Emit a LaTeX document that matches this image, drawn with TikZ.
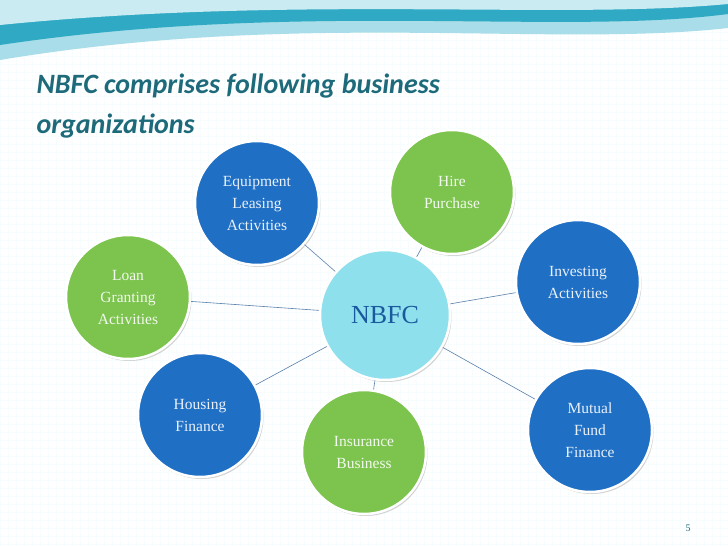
\documentclass[tikz,border=0pt]{standalone}
\usepackage{fontspec}
\setmainfont{Liberation Serif}
\newfontfamily\titlefont{Carlito}
\usetikzlibrary{shadows}
\definecolor{bluec}{HTML}{1F6FC5}
\definecolor{greenc}{HTML}{7CC44E}
\definecolor{cyanc}{HTML}{8EE0EC}
\definecolor{titlec}{HTML}{1D6A7A}
\definecolor{linec}{HTML}{5A7FA8}
\definecolor{wave1}{HTML}{2FA9C4}
\definecolor{wave2}{HTML}{A8DDE9}
\tikzset{
  bub/.style={circle,minimum size=124pt,draw=white,line width=2.5pt,inner sep=0pt,align=center,font=\fontsize{15.5}{22}\selectfont,drop shadow={shadow xshift=1.5pt,shadow yshift=-2pt,opacity=.35}},
  bb/.style={bub,fill=bluec,text=white!90!bluec},
  gb/.style={bub,fill=greenc,text=white!90!greenc},
  conn/.style={draw=linec,line width=0.6pt}
}
\begin{document}
\begin{tikzpicture}[x=1pt,y=-1pt]
\useasboundingbox (0,0) rectangle (728,546);
\fill[white] (0,0) rectangle (728,546);
\draw[step=8pt,draw=cyan!3,line width=0.3pt] (0,0) grid (728,546);
% top waves
\fill[wave2] (0,0) -- (728,0) -- (728,28) .. controls (550,48) and (300,10) .. (0,60) -- cycle;
\fill[wave1] (0,0) -- (728,0) -- (728,14) .. controls (560,36) and (300,0) .. (0,45) -- cycle;
\fill[wave2!60] (0,0) -- (728,0) -- (728,4) .. controls (560,20) and (300,-5) .. (0,25) -- cycle;
\node[anchor=west,text=titlec,font=\titlefont\bfseries\itshape\fontsize{28}{40}\selectfont,align=left] (title) at (33,106) {NBFC comprises following business\\organizations};
% nodes
\node[bub,fill=cyanc,text=bluec!80!black,minimum size=130pt,font=\fontsize{26}{30}\selectfont] (n) at (385,315) {NBFC};
\node[bb] (eq) at (257,203) {Equipment\\Leasing\\Activities};
\node[gb] (hi) at (452,192) {Hire\\Purchase};
\node[bb] (in) at (578,282) {Investing\\Activities};
\node[gb] (lo) at (128,297) {Loan\\Granting\\Activities};
\node[bb] (ho) at (200,415) {Housing\\Finance};
\node[gb] (is) at (364,452) {Insurance\\Business};
\node[bb] (mu) at (590,430) {Mutual\\Fund\\Finance};
\foreach \t in {eq,hi,in,lo,ho,is,mu} \draw[conn] (n) -- (\t);
\node[font=\fontsize{10}{10}\selectfont,text=titlec] (pg) at (688,528) {5};
\end{tikzpicture}
\end{document}
